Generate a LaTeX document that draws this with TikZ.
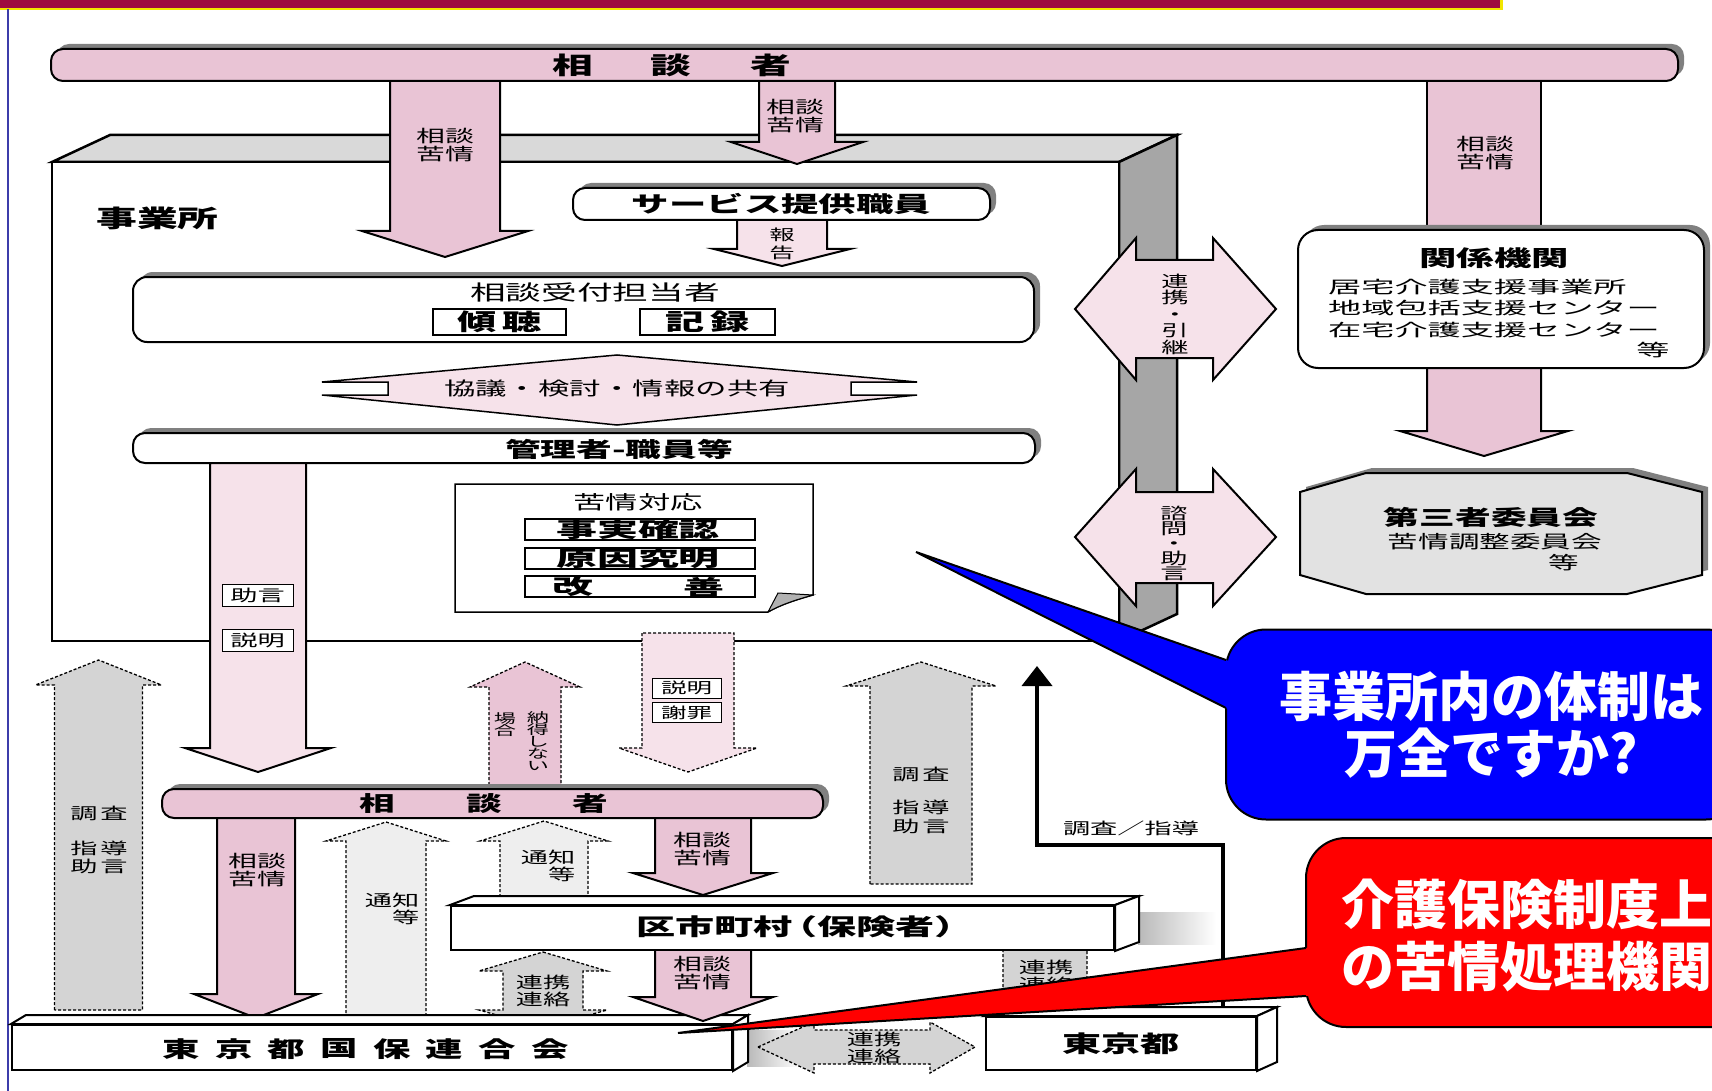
\documentclass[tikz,border=0pt]{standalone}
\usepackage{fontspec}
\newfontfamily\jw{Noto Sans CJK JP}[FakeStretch=1.7]
\newfontfamily\jx{Noto Sans CJK JP}[FakeStretch=1.95]
\newfontfamily\jp{Noto Sans CJK JP}
\usetikzlibrary{arrows.meta,calc,shadows}
\definecolor{pk}{HTML}{E9C4D5}
\definecolor{lpk}{HTML}{F6E2EA}
\definecolor{gr}{HTML}{D4D4D4}
\definecolor{lgr}{HTML}{EEEEEE}
\definecolor{ogr}{HTML}{E2E2E2}
\definecolor{mar}{HTML}{9E0B3F}
\definecolor{ylw}{HTML}{F2E600}
\definecolor{frtop}{HTML}{D9D9D9}
\definecolor{frside}{HTML}{A6A6A6}
\definecolor{cblue}{HTML}{0000FF}
\definecolor{cred}{HTML}{FF0000}
\definecolor{vline}{HTML}{3C3CAA}
\newcommand\fs[2]{\fontsize{#1pt}{#2pt}\selectfont}
% block arrow: style, cx, half shaft, half head, y start, y head base, y tip
\newcommand\barr[7]{\path[#1] (#2-#3,#5) -- (#2-#3,#6) -- (#2-#4,#6) -- (#2,#7) -- (#2+#4,#6) -- (#2+#3,#6) -- (#2+#3,#5) -- cycle;}
\tikzset{
  ol/.style={draw=black,line width=2pt,line join=miter},
  dl/.style={draw=black,line width=1.3pt,dash pattern=on 3pt off 2pt},
  tx/.style={inner sep=0pt,align=center,font=\jw\fs{17}{18}},
  bx/.style={draw=black,line width=1.5pt,fill=white,inner sep=0pt},
  rbox/.style={draw=black,line width=2pt,rounded corners=#1,inner sep=0pt},
  shd/.style={drop shadow={shadow xshift=6pt,shadow yshift=5pt,opacity=1,fill=black!50}},
}
\begin{document}
\begin{tikzpicture}[x=1pt,y=-1pt]
\useasboundingbox (0,0) rectangle (1712,1091);
\clip (0,0) rectangle (1712,1091);
\fill[white] (0,0) rectangle (1712,1091);
\fill[ylw] (0,0) rectangle (1503,10);
\fill[mar] (0,0) rectangle (1500,8);
\draw[line width=2.5pt, vline] (8,9) -- (8,1091);

% ---- business office frame
\path[ol,line width=2.5pt,fill=frtop] (52,162) -- (110,135) -- (1177,135) -- (1119,162) -- cycle;
\path[ol,line width=2.5pt,fill=frside] (1119,162) -- (1177,135) -- (1177,614) -- (1119,641) -- cycle;
\path[ol,line width=2.5pt,fill=white] (52,162) rectangle (1119,641);
\node[tx,font=\jw\bfseries\fs{24}{24},anchor=west] (jigyo) at (96,218) {事業所};

% ---- arrows from top consultant bar
\barr{ol,fill=pk}{445}{55}{83}{78}{231}{257}
\node[tx] at (445,145) {相談\\苦情};
\barr{ol,fill=pk}{797}{38}{66}{78}{142}{164}
\node[tx] at (795,116) {相談\\苦情};
\path[ol,fill=pk] (1427,78) rectangle (1541,234);
\node[tx] at (1485,153) {相談\\苦情};

% ---- top consultant bar
\node[rbox=12,shd,fill=pk,minimum width=1627pt,minimum height=32pt] (bar1) at (864.5,65) {};
\foreach \c/\x in {相/573,談/671,者/771}
  \node[tx,font=\jw\bfseries\fs{24}{24}] at (\x,65) {\c};

% ---- service staff
\barr{ol,fill=lpk}{782}{45}{68}{218}{249}{266}
\node[tx,font=\jw\fs{15}{18}] at (782,244) {報\\告};
\node[rbox=12,shd,fill=white,minimum width=417pt,minimum height=32pt,font=\jw\bfseries\fs{22}{22}] (svc) at (781.5,204) {サービス提供職員};

% ---- reception
\node[rbox=14,shd,fill=white,minimum width=901pt,minimum height=65pt] (recv) at (583.5,309.5) {};
\node[tx,font=\jw\fs{21}{21}] at (595,292) {相談受付担当者};
\node[bx,minimum width=133pt,minimum height=26pt,font=\jw\bfseries\fs{23}{23}] (keicho) at (499.5,322) {傾\hspace{6pt}聴};
\node[bx,minimum width=135pt,minimum height=26pt,font=\jw\bfseries\fs{23}{23}] (kiroku) at (707.5,322) {記\hspace{6pt}録};

% ---- discussion diamond
\path[ol,line width=1.5pt,fill=lpk] (322,382) -- (617,355) -- (917,382) -- (851,382) -- (851,395) -- (917,395) -- (617,425) -- (322,395) -- (388,395) -- (388,382) -- cycle;
\node[tx,font=\jw\fs{18.5}{18.5}] (kyogi) at (617,389) {協議・検討・情報の共有};

% ---- managers
\node[rbox=12,shd,fill=white,minimum width=902pt,minimum height=30pt] (mgr) at (584,448) {};
\node[tx,font=\jw\bfseries\fs{21}{21}] at (619,449) {管理者-職員等};

% ---- complaint handling note
\path[draw=black,line width=1.5pt,fill=white] (455,484) -- (813,484) -- (813,595) .. controls (795,600) and (780,605) .. (768,612) -- (455,612) -- cycle;
\path[draw=black,line width=1pt,fill=gray!60] (768,612) -- (778,593) -- (813,595) .. controls (795,600) and (780,605) .. (768,612);
\node[tx,font=\jw\fs{19}{19}] (kujo) at (638,502) {苦情対応};
\node[bx,line width=2pt,minimum width=230pt,minimum height=21pt] (b1) at (640,529.5) {};
\node[bx,line width=2pt,minimum width=230pt,minimum height=21pt] (b2) at (640,558) {};
\node[bx,line width=2pt,minimum width=230pt,minimum height=21pt] (b3) at (640,586.5) {};
\node[tx,font=\jx\bfseries\fs{21}{21}] at (638,530) {事実確認};
\node[tx,font=\jx\bfseries\fs{21}{21}] at (638,558.5) {原因究明};
\node[tx,font=\jx\bfseries\fs{21}{21}] at (573,587) {改};
\node[tx,font=\jx\bfseries\fs{21}{21}] at (704,587) {善};

% ---- double arrows on the frame side
\path[ol,fill=lpk] (1075,309) -- (1136,238) -- (1136,260) -- (1213,260) -- (1213,238) -- (1276,309) -- (1213,380) -- (1213,358) -- (1136,358) -- (1136,380) -- cycle;
\node[tx,font=\jw\fs{16}{16.5}] at (1175,314) {連\\携\\・\\引\\継};
\path[ol,fill=lpk] (1075,537) -- (1136,469) -- (1136,492) -- (1213,492) -- (1213,469) -- (1276,537) -- (1213,606) -- (1213,583) -- (1136,583) -- (1136,606) -- cycle;
\node[tx,font=\jw\fs{16}{15}] at (1174,543) {諮\\問\\・\\助\\言};

% ---- related organisations
\barr{ol,fill=pk}{1484}{57}{84}{366}{431}{456}
\node[rbox=20,shd,fill=white,minimum width=406pt,minimum height=138pt] (kankei) at (1501,299) {};
\node[tx,font=\jw\bfseries\fs{22}{22}] at (1494,258) {関係機関};
\node[tx,font=\jx\fs{17}{17},anchor=west] at (1328,287) {居宅介護支援事業所};
\node[tx,font=\jx\fs{17}{17},anchor=west] at (1328,308) {地域包括支援センター};
\node[tx,font=\jx\fs{17}{17},anchor=west] at (1328,330) {在宅介護支援センター};
\node[tx,font=\jx\fs{17}{17}] at (1653,350) {等};

% ---- third-party committee
\path[ol,shd,fill=ogr] (1300,492) -- (1366,473) -- (1627,473) -- (1702,492) -- (1702,575) -- (1627,594) -- (1366,594) -- (1300,575) -- cycle;
\node[tx,font=\jw\bfseries\fs{21}{21}] at (1491,517) {第三者委員会};
\node[tx,font=\jw\fs{18}{18}] at (1495,542) {苦情調整委員会};
\node[tx,font=\jw\fs{18}{18}] at (1564,563) {等};

% ---- advice / explanation arrow
\barr{ol,fill=lpk}{258}{48}{73}{463}{748}{772}
\node[bx,line width=1pt,minimum width=71pt,minimum height=22pt,font=\jw\fs{16}{16}] at (257.5,595) {助言};
\node[bx,line width=1pt,minimum width=71pt,minimum height=22pt,font=\jw\fs{16}{16}] at (257.5,640) {説明};

% ---- explanation / apology arrow
\barr{dl,fill=lpk}{688}{46}{69}{633}{748}{772}
\node[bx,line width=1pt,minimum width=69pt,minimum height=20pt,font=\jw\fs{15}{15}] at (686.5,688) {説明};
\node[bx,line width=1pt,minimum width=69pt,minimum height=20pt,font=\jw\fs{15}{15}] at (686.5,712.5) {謝罪};

% ---- not satisfied arrow
\barr{dl,fill=pk}{525}{36}{55}{790}{687}{662}
\node[tx,font=\jw\fs{13}{12}] at (538,741) {納\\得\\し\\な\\い};
\node[tx,font=\jw\fs{13}{12}] at (505,725) {場\\合};

% ---- arrows below the lower consultant bar
\barr{ol,fill=pk}{256}{39}{62}{816}{994}{1018}
\node[tx] at (257,870) {相談\\苦情};
\barr{dl,fill=lgr}{386}{40}{60}{1018}{841}{822}
\node[tx,align=right,font=\jw\fs{16}{17}] at (392,909) {通知\\等};
\barr{dl,fill=lgr}{544}{44}{64}{897}{841}{821}
\node[tx,align=right,font=\jw\fs{16}{17}] at (548,866) {通知\\等};
\barr{ol,fill=pk}{703}{48}{70}{816}{873}{895}
\node[tx] at (702,849) {相談\\苦情};

% ---- lower consultant bar
\node[rbox=12,shd,fill=pk,minimum width=661pt,minimum height=29pt] (bar2) at (492.5,803.5) {};
\foreach \c/\x in {相/377,談/484,者/590}
  \node[tx,font=\jw\bfseries\fs{21}{21}] at (\x,804) {\c};

% ---- investigation arrows (gray, dashed)
\barr{dl,fill=gr}{98.5}{44}{63}{1010}{685}{660}
\node[tx,font=\jw\fs{16}{16}] at (99,813) {調\,査};
\node[tx,font=\jw\fs{16}{18}] at (99,857) {指\,導\\助\,言};
\barr{dl,fill=gr}{921}{51}{75}{884}{686}{662}
\node[tx,font=\jw\fs{16}{16}] at (921,774) {調\,査};
\node[tx,font=\jw\fs{16}{19}] at (921,817) {指\,導\\助\,言};

% ---- mid cooperation arrow
\path[dl,fill=gr] (543,952) -- (607,971) -- (583,971) -- (583,1010) -- (607,1010) -- (543,1028) -- (479,1010) -- (503,1010) -- (503,971) -- (479,971) -- cycle;
\node[tx,font=\jw\fs{16}{17}] at (543,991) {連携\\連絡};

% ---- black guidance arrow
\coordinate (r1) at (1223,1012);
\coordinate (r2) at (1037,666);
\draw[line width=4pt,-{Triangle[width=30pt,length=20pt]}] (r1) |- (1037,845) -- (r2);
\node[tx,font=\jw\fs{16}{16}] at (1131,828) {調査／指導};

% ---- small cooperation arrow near Tokyo
\barr{dl,fill=gr}{1045}{42}{59}{1012}{950}{933}
\node[tx,font=\jw\fs{16}{17}] at (1046,976) {連携\\連絡};

% ---- Tokyo federation box
\shade[left color=gray!55,right color=white] (747,1030) rectangle (800,1066);
\node[bx,line width=2pt,minimum width=720pt,minimum height=45pt] (kokuho) at (372,1047.5) {};
\path[ol,fill=white] (kokuho.north west) -- ++(15,-9) -- ($(kokuho.north east)+(15,-9)$) -- (kokuho.north east) -- cycle;
\path[ol,fill=white] (kokuho.north east) -- ++(15,-9) -- ($(kokuho.south east)+(15,-9)$) -- (kokuho.south east) -- cycle;
\foreach \c [count=\i from 0] in {東,京,都,国,保,連,合,会}
  \node[tx,font=\jw\bfseries\fs{22}{22}] at (181+52.7*\i,1049) {\c};

% ---- arrow municipality -> federation
\barr{ol,fill=pk}{703}{48}{70}{948}{997}{1021}
\node[tx] at (702,973) {相談\\苦情};

% ---- municipality box
\shade[left color=gray!55,right color=white] (1138,912) rectangle (1216,944);
\node[bx,line width=2pt,minimum width=663pt,minimum height=44pt] (kushi) at (782.5,928) {};
\path[ol,fill=white] (kushi.north west) -- ++(24,-9) -- ($(kushi.north east)+(24,-9)$) -- (kushi.north east) -- cycle;
\path[ol,fill=white] (kushi.north east) -- ++(24,-9) -- ($(kushi.south east)+(24,-9)$) -- (kushi.south east) -- cycle;
\node[tx,font=\jw\bfseries\fs{23}{23}] at (798,927) {区市町村\kern-14pt（保険者）\kern-14pt};

% ---- Tokyo Metropolitan box
\node[bx,line width=2pt,minimum width=270pt,minimum height=53pt,font=\jw\bfseries\fs{23}{23}] (tokyo) at (1121,1043.5) {東京都};
\path[ol,fill=white] (tokyo.north west) -- ++(20,-9) -- ($(tokyo.north east)+(20,-9)$) -- (tokyo.north east) -- cycle;
\path[ol,fill=white] (tokyo.north east) -- ++(20,-9) -- ($(tokyo.south east)+(20,-9)$) -- (tokyo.south east) -- cycle;

% ---- horizontal cooperation arrow
\path[dl,fill=gr] (758,1047) -- (814,1022) -- (814,1030) -- (930,1030) -- (930,1022) -- (975,1047) -- (930,1073) -- (930,1064) -- (814,1064) -- (814,1073) -- cycle;
\node[tx,font=\jw\fs{16}{17}] at (874,1048) {連携\\連絡};

% ---- blue callout
\node[draw=black,line width=2pt,fill=cblue,rounded corners=40pt,minimum width=520pt,minimum height=190pt] (cb) at (1486,724.5) {};
\fill[cblue] (916,552) -- ($(916,552)!1.03!(1226,660)$) -- ($(916,552)!1.03!(1226,708)$) -- cycle;
\draw[line width=2pt,line join=bevel] (1226,660) -- (916,552) -- (1226,708);
\node[tx,font=\jp\bfseries\fs{53}{57},text=white] at (1491,725) {事業所内の体制は\\万全ですか?};

% ---- red callout
\node[draw=black,line width=2pt,fill=cred,rounded corners=40pt,minimum width=454pt,minimum height=189pt] (cr) at (1533,932.5) {};
\fill[cred] (678,1033) -- ($(678,1033)!1.02!(1306,948)$) -- ($(678,1033)!1.02!(1306,996)$) -- cycle;
\draw[line width=2pt,line join=bevel] (1306,948) -- (678,1033) -- (1306,996);
\node[tx,font=\jp\bfseries\fs{53}{62},text=white,anchor=west,align=left] at (1341,935) {介護保険制度上\\の苦情処理機関};
\end{tikzpicture}
\end{document}
